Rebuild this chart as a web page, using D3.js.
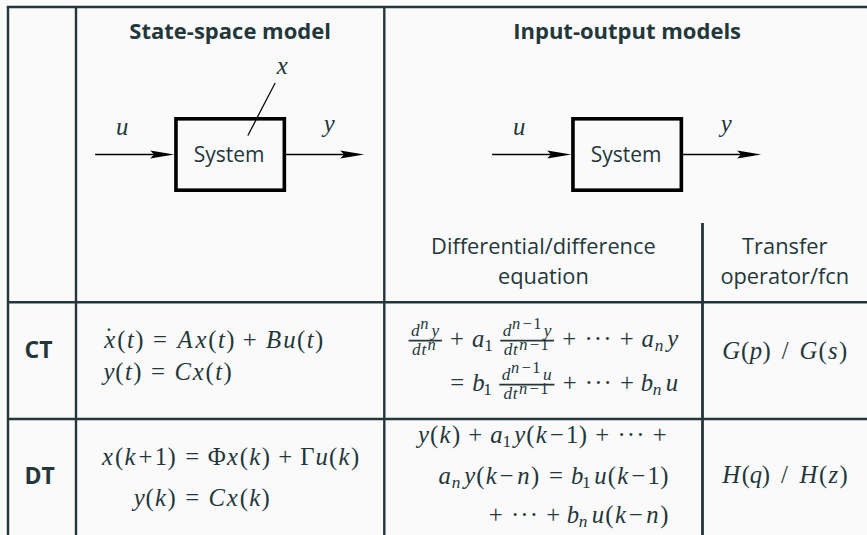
<!DOCTYPE html>
<html><head><meta charset="utf-8">
<script src="https://cdn.jsdelivr.net/npm/d3@7"></script>
<style>html,body{margin:0;padding:0;background:#fafafa;}svg{display:block}</style>
</head><body><svg id="c" width="867" height="535"></svg>
<script>
// ---------------- data ----------------
const columnHeaders = ["State-space model", "Input-output models"];
const subHeaders = [["Differential/difference", "equation"], ["Transfer", "operator/fcn"]];
const rowLabels = ["CT", "DT"];
const blockName = "System";
const stateSignals = ["u", "y", "x"];   // input, output, state
const ioSignals = ["u", "y"];
const stateSpaceEq = [
  ["ẋ(t) = Ax(t) + Bu(t)", "y(t) = Cx(t)"],
  ["x(k+1) = Φx(k) + Γu(k)", "y(k) = Cx(k)"]
];
const ioEq = [
  ["frac{d^ny}{dt^n} + a_1 frac{d^{n−1}y}{dt^{n−1}} + ⋯ + a_ny", "= b_1 frac{d^{n−1}u}{dt^{n−1}} + ⋯ + b_nu"],
  ["y(k) + a_1y(k−1) + ⋯ +", "a_ny(k−n) = b_1u(k−1)", "+ ⋯ + b_nu(k−n)"]
];
const transferFns = ["G(p) / G(s)", "H(q) / H(z)"];

// ---------------- layout & style ----------------
const W = 867, H = 535;
const INK = "#23373b", BLACK = "#000";
const SANS = "'Open Sans','Noto Sans',sans-serif";
const MATHF = "'Liberation Serif','DejaVu Serif',serif";
const colX = d3.scaleOrdinal().domain(["left", "label", "state", "io", "tf", "right"])
  .range([8, 76, 384.3, 702.5, 867, 867]);
const rowY = d3.scaleOrdinal().domain(["top", "head", "ct", "dt"]).range([7, 302.3, 419, 535]);

const svg = d3.select("#c");
svg.append("rect").attr("width", W).attr("height", H).attr("fill", "#fafafa");

// ---------------- math engine (Computer-Modern advance widths) ----------------
const EM = 24, GLYPH = 1.03;
const LEVEL_SIZE = [24, 16.8, 16, 16];
const CMW = {a:.529,b:.429,d:.520,k:.521,n:.600,p:.503,q:.446,s:.469,t:.361,u:.572,x:.572,y:.490,z:.465,
  A:.750,B:.759,C:.715,G:.786,H:.831,"(":.389,")":.389,"1":.5,"+":.778,"=":.778,"−":.778,"Φ":.722,"Γ":.625,"/":.5,"ẋ":.572};

function charBox(ch, size) {
  const w = (CMW[ch] ?? 0.5) * size;
  const italic = /[A-Za-z]/.test(ch) || ch === "ẋ";
  return {w, draw(g, x, b) {
    g.append("text").attr("x", x + w / 2).attr("y", b).attr("text-anchor", "middle")
      .attr("font-family", MATHF).attr("font-size", size * GLYPH)
      .attr("font-style", italic ? "italic" : "normal").text(ch === "ẋ" ? "x" : ch);
    if (ch === "ẋ") g.append("text").attr("x", x + w / 2 - 1).attr("y", b - 0.15 * size)
      .attr("text-anchor", "middle").attr("font-family", MATHF).attr("font-size", size * GLYPH).text("˙");
  }};
}
function cdotsBox(size) {
  const w = 1.172 * size;
  return {w, draw(g, x, b) {
    [0, 1, 2].forEach(i => g.append("text").attr("x", x + (0.195 + 0.39 * i) * size).attr("y", b)
      .attr("text-anchor", "middle").attr("font-family", MATHF).attr("font-size", size * GLYPH).text("·"));
  }};
}
function hbox(boxes) {
  const w = d3.sum(boxes, d => d.w);
  return {w, draw(g, x, b) { let cx = x; boxes.forEach(bx => { bx.draw(g, cx, b); cx += bx.w; }); }};
}
function scriptBox(base, scr, sup, size, cramped) {
  const up = cramped ? 0.26 : 0.38;
  return {w: base.w + scr.w + 0.12 * size, draw(g, x, b) {
    base.draw(g, x, b);
    scr.draw(g, x + base.w, b + (sup ? -up * size : 0.17 * size));
  }};
}
function fracBox(num, den, size) {
  const pad = 0.12 * size, w = Math.max(num.w, den.w) + 2 * pad;
  return {w, draw(g, x, b) {
    const bar = b - 0.28 * size;
    g.append("line").attr("x1", x + 0.5).attr("x2", x + w - 0.5).attr("y1", bar).attr("y2", bar)
      .attr("stroke", INK).attr("stroke-width", 1.6);
    num.draw(g, x + (w - num.w) / 2, bar - 0.2 * size);
    den.draw(g, x + (w - den.w) / 2, bar + 0.58 * size);
  }};
}
function parseRun(s, level, cramped) {
  const size = LEVEL_SIZE[Math.min(level, 3)];
  const boxes = [];
  let i = 0;
  const group = () => {
    if (s[i] === "{") {
      let d = 1, j = i + 1;
      while (d) { if (s[j] === "{") d++; else if (s[j] === "}") d--; j++; }
      const g = s.slice(i + 1, j - 1); i = j; return g;
    }
    return s[i++];
  };
  while (i < s.length) {
    if (s.startsWith("frac", i)) {
      i += 4; const a = group(), c = group();
      boxes.push(fracBox(parseRun(a, level + 1, false), parseRun(c, level + 1, true), size)); continue;
    }
    const c = s[i];
    if (c === "^" || c === "_") {
      i++; const g = group(); const base = boxes.pop();
      boxes.push(scriptBox(base, parseRun(g, level + 1, cramped), c === "^", size, cramped)); continue;
    }
    i++;
    boxes.push(c === "⋯" ? cdotsBox(size) : charBox(c, size));
  }
  return hbox(boxes);
}
const SP = {rel: 5 / 18, bin: 4 / 18, slash: 0.33};
function layoutLine(str) {
  const parts = str.split(" ").map(t => {
    if (t === "=") return {kind: "rel", box: charBox("=", EM)};
    if (t === "+" || t === "−") return {kind: "bin", box: charBox(t, EM)};
    if (t === "/") return {kind: "slash", box: charBox("/", EM)};
    if (t === "⋯") return {kind: "ord", box: cdotsBox(EM)};
    return {kind: "ord", box: parseRun(t, 0, false)};
  });
  let x = 0; const placed = [];
  parts.forEach((p, k) => {
    if (k > 0) {
      const prev = parts[k - 1];
      if (p.kind !== "ord") x += SP[p.kind] * EM;
      else if (prev.kind !== "ord") x += SP[prev.kind] * EM;
      else x += EM / 6;
    }
    placed.push({p, x}); x += p.box.w;
  });
  const eq = placed.findIndex(d => d.p.kind === "rel");
  return {placed, w: x, lhs: eq > 0 ? placed[eq].x - SP.rel * EM : 0};
}
function drawLine(L, x0, b) {
  const g = svg.append("g").attr("fill", INK);
  L.placed.forEach(({p, x}) => p.box.draw(g, x0 + x, b));
}
function drawBlock(lines, mode, xRef, baselines) {
  const Ls = lines.map(layoutLine);
  const maxW = d3.max(Ls, d => d.w);
  if (mode === "align") {
    const maxL = d3.max(Ls, d => d.lhs), maxR = d3.max(Ls, d => d.w - d.lhs);
    const ax = xRef - (maxL + maxR) / 2 + maxL;
    Ls.forEach((L, i) => drawLine(L, ax - L.lhs, baselines[i]));
  } else {
    Ls.forEach((L, i) => {
      let x0 = xRef;
      if (mode === "right") x0 = xRef + maxW / 2 - L.w;
      if (mode === "center") x0 = xRef - L.w / 2;
      drawLine(L, x0, baselines[i]);
    });
  }
}

// ---------------- grid ----------------
const grid = svg.append("g").attr("stroke", INK).attr("stroke-width", 2.4);
grid.append("line").attr("x1", colX("left") - 1.2).attr("x2", W).attr("y1", rowY("top")).attr("y2", rowY("top"));
["head", "ct"].forEach(r => grid.append("line").attr("x1", colX("left")).attr("x2", W).attr("y1", rowY(r)).attr("y2", rowY(r)));
["left", "label", "state"].forEach(c => grid.append("line").attr("x1", colX(c)).attr("x2", colX(c)).attr("y1", rowY("top")).attr("y2", H));
grid.append("line").attr("x1", colX("io")).attr("x2", colX("io")).attr("y1", 223).attr("y2", H).attr("stroke-width", 2.8);

const cStateX = (colX("label") + colX("state")) / 2;
const cIOX = (colX("state") + colX("right")) / 2 + 1.5;
const cEqX = (colX("state") + colX("io")) / 2;
const cTfX = (colX("io") + colX("right")) / 2;

// ---------------- headers ----------------
[cStateX, cIOX].forEach((cx, i) => svg.append("text").attr("x", cx).attr("y", 38.5)
  .attr("text-anchor", "middle").attr("font-family", SANS).attr("font-weight", 700)
  .attr("font-size", 22).attr("fill", INK).text(columnHeaders[i]));
[cEqX, cTfX].forEach((cx, i) => subHeaders[i].forEach((t, j) => svg.append("text")
  .attr("x", cx).attr("y", 254 + 30 * j).attr("text-anchor", "middle").attr("font-family", SANS)
  .attr("font-size", 21.8).attr("fill", INK).text(t)));

// ---------------- block diagrams ----------------
function arrow(g, x1, x2, y) {
  g.append("line").attr("x1", x1).attr("x2", x2 - 18).attr("y1", y).attr("y2", y)
    .attr("stroke", BLACK).attr("stroke-width", 1.6);
  g.append("path").attr("d", `M${x2},${y} L${x2 - 24},${y - 4} L${x2 - 20},${y} L${x2 - 24},${y + 4} Z`).attr("fill", BLACK);
}
function mathLabel(g, t, x, b) {
  g.append("text").attr("x", x).attr("y", b).attr("text-anchor", "middle").attr("font-family", MATHF)
    .attr("font-style", "italic").attr("font-size", EM * GLYPH).attr("fill", INK).text(t);
}
function diagram(cx, signals) {
  const g = svg.append("g");
  const bw = 112, bh = 75, top = 117, sw = 3.6, ay = top + bh / 2;
  g.append("rect").attr("x", cx - bw / 2 + sw / 2).attr("y", top + sw / 2).attr("width", bw - sw).attr("height", bh - sw)
    .attr("fill", "none").attr("stroke", BLACK).attr("stroke-width", sw);
  g.append("text").attr("x", cx - 1).attr("y", 161.5).attr("text-anchor", "middle").attr("font-family", SANS)
    .attr("font-size", 21).attr("fill", INK).text(blockName);
  arrow(g, cx - bw / 2 - 79, cx - bw / 2, ay);
  arrow(g, cx + bw / 2, cx + bw / 2 + 78, ay);
  mathLabel(g, signals[0], cx - bw / 2 - 52, 135);
  mathLabel(g, signals[1], cx + bw / 2 + 43, 132);
  if (signals[2]) {
    g.append("line").attr("x1", cx + 45).attr("y1", 83).attr("x2", cx + 17.7).attr("y2", 135.5)
      .attr("stroke", BLACK).attr("stroke-width", 1.2);
    mathLabel(g, signals[2], cx + 52, 74);
  }
}
diagram(cStateX, stateSignals);
diagram(cIOX, ioSignals);

// ---------------- body rows ----------------
const rowTops = [rowY("head"), rowY("ct")];
rowLabels.forEach((t, i) => svg.append("text").attr("x", colX("left") + 16.5).attr("y", rowTops[i] + [56, 65][i])
  .attr("font-family", SANS).attr("font-weight", 700).attr("font-size", 23).attr("fill", INK).text(t));

drawBlock(stateSpaceEq[0], "left", colX("label") + 27, [rowTops[0] + 46, rowTops[0] + 78]);
drawBlock(stateSpaceEq[1], "align", cStateX, [rowTops[1] + 46, rowTops[1] + 87]);
drawBlock(ioEq[0], "right", cEqX, [rowTops[0] + 45, rowTops[0] + 89]);
drawBlock(ioEq[1], "right", cEqX, [rowTops[1] + 24, rowTops[1] + 65, rowTops[1] + 104]);
drawBlock([transferFns[0]], "center", cTfX, [rowTops[0] + 57]);
drawBlock([transferFns[1]], "center", cTfX, [rowTops[1] + 64]);
</script></body></html>
